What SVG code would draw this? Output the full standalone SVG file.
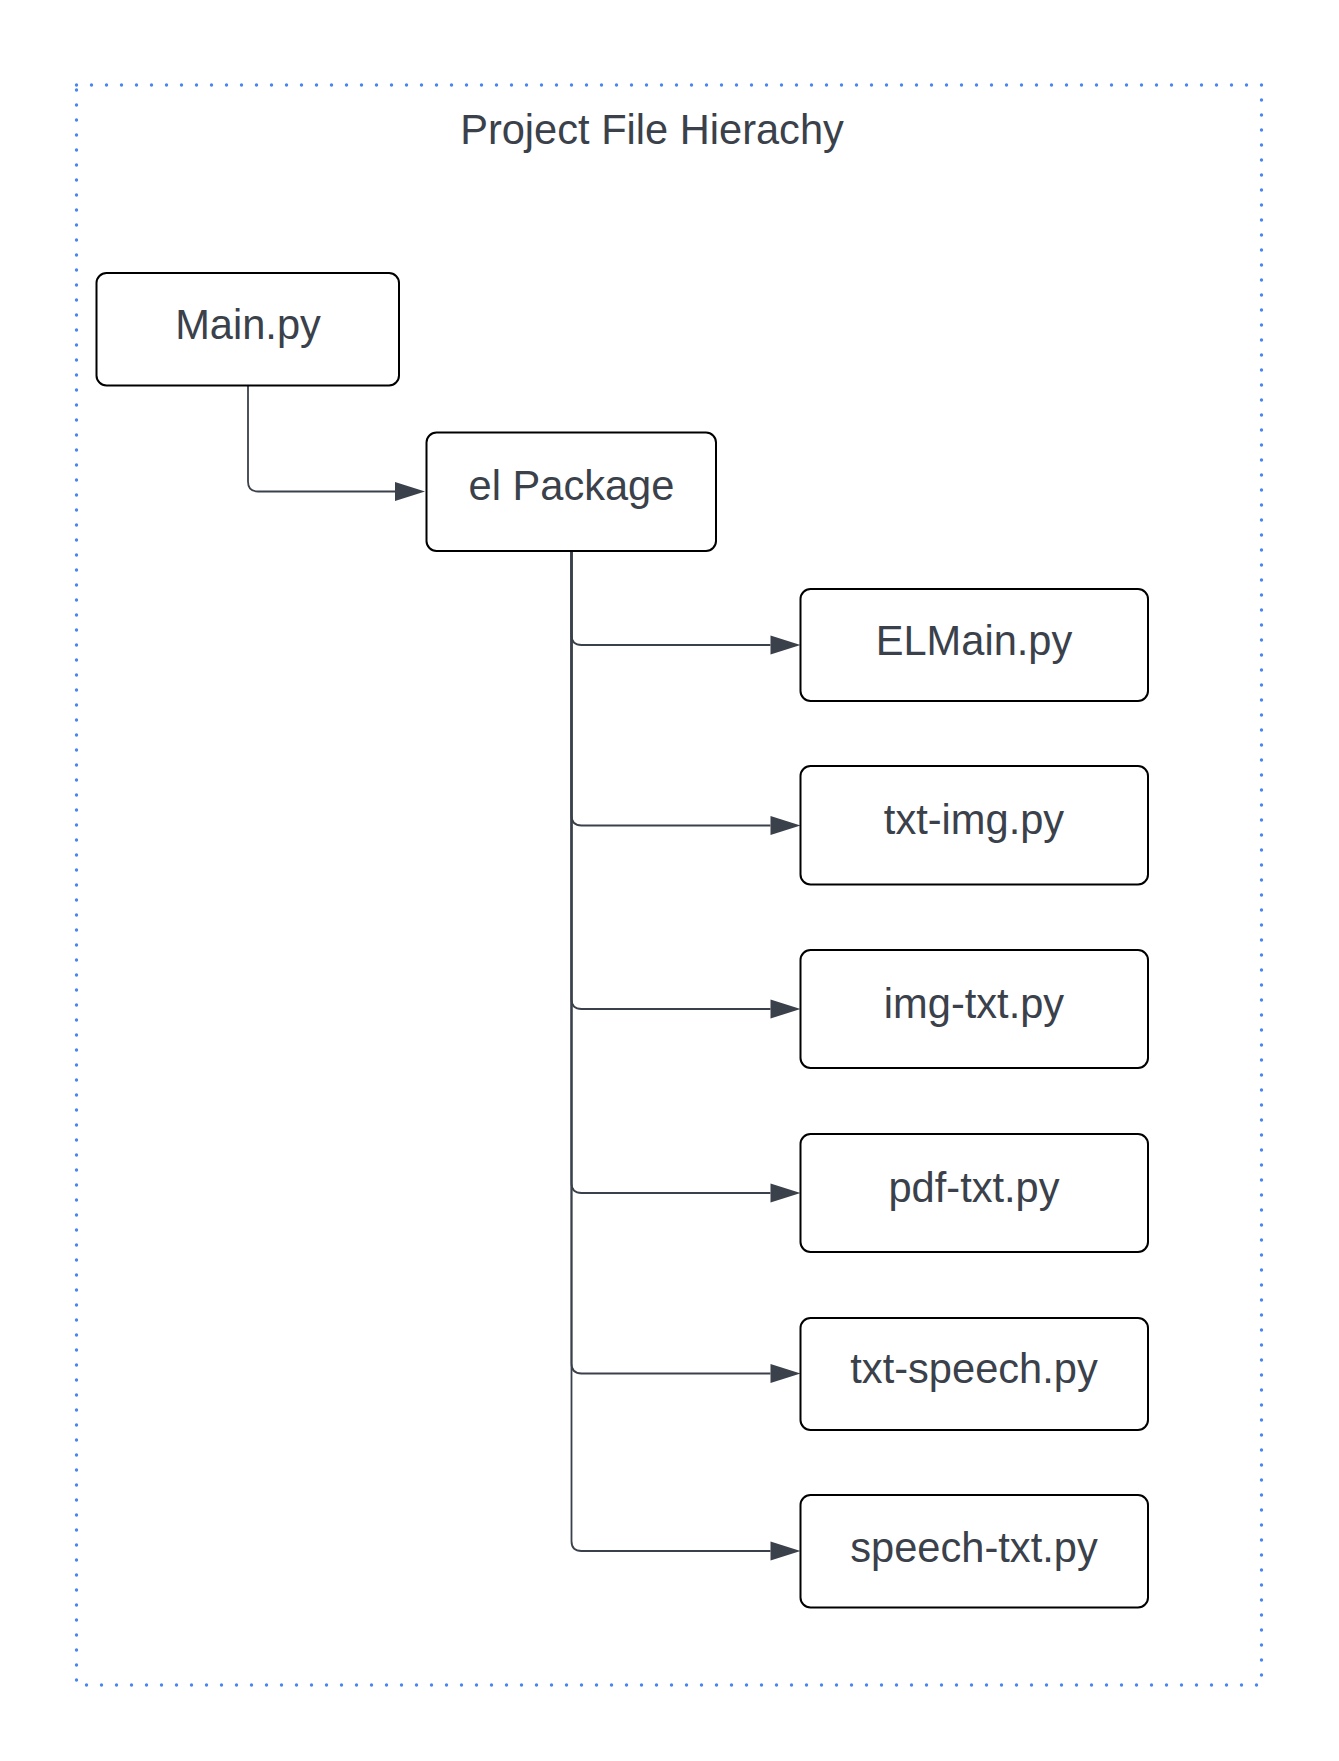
<svg xmlns="http://www.w3.org/2000/svg" width="1339" height="1761" viewBox="0 0 1339 1761">
  <style>
    .box { fill: #ffffff; stroke: #000000; stroke-width: 2; }
    .lbl { font-family: "Liberation Sans", Arial, sans-serif; font-size: 41.6px; fill: #3a414a; text-anchor: middle; }
    .conn { fill: none; stroke: #3a414a; stroke-width: 1.8; }
    .frame { fill: none; stroke: #4a86f0; stroke-width: 3.4; stroke-dasharray: 0 15; stroke-linecap: round; }
  </style>
  <defs>
    <marker id="arrow" markerUnits="userSpaceOnUse" markerWidth="31" markerHeight="20" refX="0" refY="9.5" orient="auto" overflow="visible">
      <path d="M0,0 L30,9.5 L0,19 Z" fill="#3a414a"/>
    </marker>
  </defs>
  <rect x="0" y="0" width="1339" height="1761" fill="#ffffff"/>

  <g id="frame">
    <rect class="frame" x="76.5" y="85" width="1185" height="1600"/>
    <text class="lbl" x="652" y="144">Project File Hierachy</text>
  </g>

  <g id="connectors">
    <path class="conn" marker-end="url(#arrow)" d="M248,386 V481.5 Q248,491.5 258,491.5 H395"/>
    <path class="conn" marker-end="url(#arrow)" d="M571.5,551 V635 Q571.5,645 581.5,645 H770.5"/>
    <path class="conn" marker-end="url(#arrow)" d="M571.5,551 V815.5 Q571.5,825.5 581.5,825.5 H770.5"/>
    <path class="conn" marker-end="url(#arrow)" d="M571.5,551 V999 Q571.5,1009 581.5,1009 H770.5"/>
    <path class="conn" marker-end="url(#arrow)" d="M571.5,551 V1183 Q571.5,1193 581.5,1193 H770.5"/>
    <path class="conn" marker-end="url(#arrow)" d="M571.5,551 V1363.5 Q571.5,1373.5 581.5,1373.5 H770.5"/>
    <path class="conn" marker-end="url(#arrow)" d="M571.5,551 V1541 Q571.5,1551 581.5,1551 H770.5"/>
  </g>

  <g id="node-main">
    <rect class="box" x="96.5" y="273" width="302.5" height="112.5" rx="10"/>
    <text class="lbl" x="248" y="339">Main.py</text>
  </g>
  <g id="node-elpackage">
    <rect class="box" x="426.5" y="432.5" width="289.5" height="118.5" rx="10"/>
    <text class="lbl" x="571.5" y="500">el Package</text>
  </g>
  <g id="node-elmain">
    <rect class="box" x="800.5" y="589" width="347.5" height="112" rx="10"/>
    <text class="lbl" x="974" y="655">ELMain.py</text>
  </g>
  <g id="node-txt-img">
    <rect class="box" x="800.5" y="766" width="347.5" height="118.5" rx="10"/>
    <text class="lbl" x="974" y="833.5">txt-img.py</text>
  </g>
  <g id="node-img-txt">
    <rect class="box" x="800.5" y="950" width="347.5" height="118" rx="10"/>
    <text class="lbl" x="974" y="1017.5">img-txt.py</text>
  </g>
  <g id="node-pdf-txt">
    <rect class="box" x="800.5" y="1134" width="347.5" height="118" rx="10"/>
    <text class="lbl" x="974" y="1202">pdf-txt.py</text>
  </g>
  <g id="node-txt-speech">
    <rect class="box" x="800.5" y="1318" width="347.5" height="112" rx="10"/>
    <text class="lbl" x="974" y="1383">txt-speech.py</text>
  </g>
  <g id="node-speech-txt">
    <rect class="box" x="800.5" y="1495" width="347.5" height="112.5" rx="10"/>
    <text class="lbl" x="974" y="1561.5">speech-txt.py</text>
  </g>
</svg>
